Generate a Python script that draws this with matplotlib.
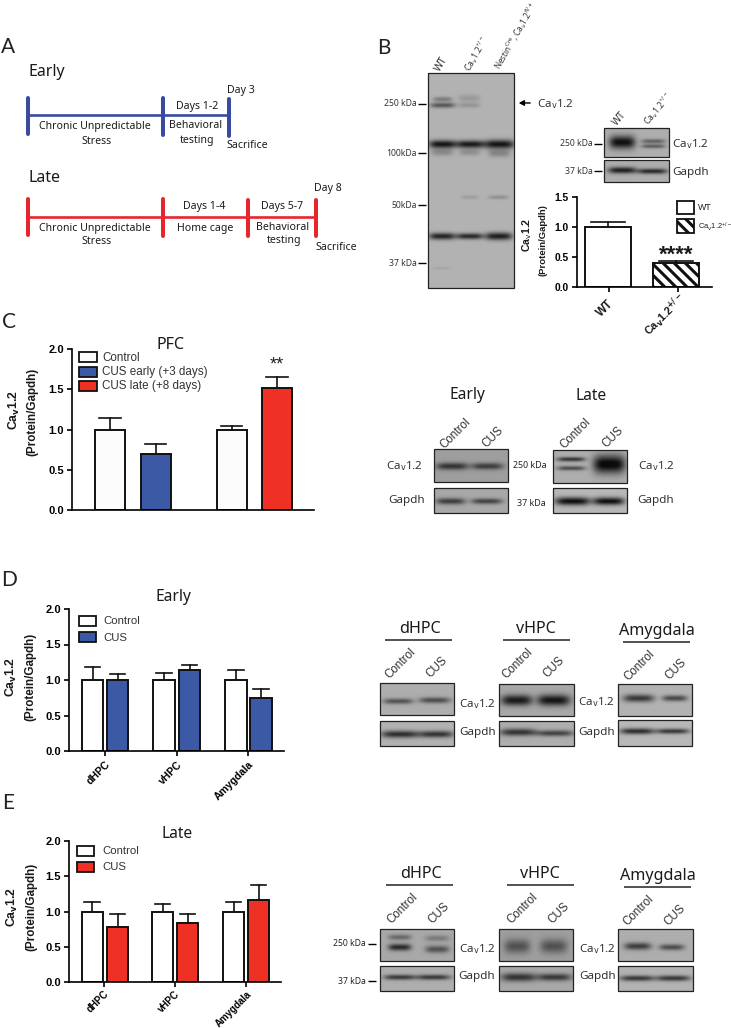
#!/usr/bin/env python3
# -*- coding:utf-8 -*-
"""
Cav1.2 stress figure: timelines, blots and bar panels
everything is placed in pixels of the 731x1028 page
"""

import matplotlib
matplotlib.use("Agg")
import matplotlib.pyplot as plt
from matplotlib.patches import Rectangle
import numpy as np

W, H = 731, 1028
WHITE = "#fdfcfc"
BLUE = "#3c59a6"
RED = "#ee3124"
TL_BLUE = "#3a4b9f"
TL_RED = "#e5262d"
LABEL = "Noto Sans"
BAR = "Liberation Sans"

CAV = "Ca$_{\\mathrm{v}}$1.2"
CAV_BOLD = "Ca$_{\\mathbf{v}}$1.2"
CAV_HET = "Ca$_{\\mathrm{v}}$1.2$^{+/-}$"
CAV_HET_BOLD = "Ca$_{\\mathbf{v}}$1.2$^{\\mathbf{+/-}}$"
NESTIN = "Nestin$^{\\mathrm{Cre}}$, Ca$_{\\mathrm{v}}$1.2$^{\\mathrm{fl/+}}$"

# bar values
b_means = [1.0, 0.40]
b_errs = [1.08, 0.44]
pfc_means = [1.0, 0.70, 1.0, 1.52]
pfc_errs = [1.14, 0.82, 1.04, 1.65]
regions = ["dHPC", "vHPC", "Amygdala"]
early_control = [1.0, 1.0, 1.0]
early_control_err = [1.18, 1.10, 1.14]
early_cus = [1.0, 1.14, 0.74]
early_cus_err = [1.08, 1.21, 0.88]
late_control = [1.0, 1.0, 1.0]
late_control_err = [1.13, 1.11, 1.14]
late_cus = [0.78, 0.83, 1.17]
late_cus_err = [0.97, 0.96, 1.37]

plt.rcParams["mathtext.default"] = "regular"
plt.rcParams["hatch.linewidth"] = 2.2
plt.rcParams["font.family"] = [LABEL, "DejaVu Sans"]

fig = plt.figure(figsize=(W / 100, H / 100), dpi=100)
page = fig.add_axes([0, 0, 1, 1])
page.set_xlim(0, W)
page.set_ylim(H, 0)
page.axis("off")


def label(x, y, s, size=7.6, ha="center", rot=0, color="#1a1a1a", family=LABEL, weight="normal"):
    page.text(x, y, s, fontsize=size, ha=ha, va="center", rotation=rot, color=color,
              family=family, weight=weight, rotation_mode="anchor")


def hline(x0, x1, y, color="black", lw=1.0):
    page.plot([x0, x1], [y, y], color=color, lw=lw, solid_capstyle="butt")


def blot(x0, x1, y0, y1, bands, bg=0.66):
    # bands are (left, right, y, half height, darkness)
    xs = np.arange(x0, x1, 0.5)
    ys = np.arange(y0, y1, 0.5)
    xx, yy = np.meshgrid(xs, ys)
    img = np.full(xx.shape, float(bg))
    for left, right, yc, hh, dark in bands:
        cx = (left + right) / 2
        wx = (right - left) / 2
        img -= dark * np.exp(-((xx - cx) / wx) ** 4 - ((yy - yc) / hh) ** 2)
    page.imshow(np.clip(img, 0.05, 1), extent=(x0, x1, y1, y0), cmap="gray", vmin=0, vmax=1,
                aspect="auto", interpolation="bilinear", zorder=2)
    page.add_patch(Rectangle((x0, y0), x1 - x0, y1 - y0, fill=False, ec="#222222", lw=0.9, zorder=3))


def bar_panel(left, right, top, bottom, ymax, ticks, xs, width, means, errs, colors, ticksize=8.0):
    ax = fig.add_axes([left / W, 1 - bottom / H, (right - left) / W, (bottom - top) / H])
    ax.set_xlim(left, right)
    ax.set_ylim(0, ymax)
    ax.patch.set_alpha(0)
    for x, m, e, c in zip(xs, means, errs, colors):
        ax.plot([x, x], [m, e], color="#111111", lw=1.2, zorder=1)
        ax.plot([x - width * 0.36, x + width * 0.36], [e, e], color="#111111", lw=1.2, zorder=1)
    bars = ax.bar(xs, means, width, color=colors, edgecolor="#111111", linewidth=1.4, zorder=2)
    for s in ["top", "right"]:
        ax.spines[s].set_visible(False)
    for s in ["left", "bottom"]:
        ax.spines[s].set_linewidth(1.2)
    ax.set_yticks(ticks)
    ax.set_yticklabels(["%.1f" % t for t in ticks], family=BAR, weight="bold", fontsize=ticksize)
    ax.tick_params(axis="y", length=3.8, width=1.2, pad=2)
    return ax, bars


def legend_box(x0, x1, y0, y1, color, hatch=None):
    page.add_patch(Rectangle((x0, y0), x1 - x0, y1 - y0, fc=color, ec="#111111", lw=1.3,
                             hatch=hatch, zorder=4))


def ylabels(x1, y1, x2, y2, size=8.4):
    label(x1, y1, CAV_BOLD, size=size + 0.4, rot=90, family=BAR, weight="bold")
    label(x2, y2, "(Protein/Gapdh)", size=size, rot=90, family=BAR, weight="bold")


def region_blots(tops, line_y, names, cav_y, gap_y):
    for (cx, x0, x1), y, s in zip(names, line_y, regions):
        label(cx, y - 11, s, size=11.6)
        hline(x0, x1, y, "#222222", 1.1)
    for x, y, s in tops:
        label(x, y, s, size=8.4, ha="left", rot=45, family=BAR, color="#333333")
    for x, y in cav_y:
        label(x, y, CAV, size=8.4, ha="left", color="#333333")
    for x, y in gap_y:
        label(x, y, "Gapdh", size=8.4, ha="left", color="#333333")


# panel letters
for s, x, y in [("A", 8, 47), ("B", 384, 48), ("C", 9, 322), ("D", 9, 580), ("E", 8, 803)]:
    label(x, y, s, size=15, color="#222222", family="Lato")

# A, timelines
label(29, 72, "Early", size=11.5, ha="left")
hline(28, 229, 115, TL_BLUE, 1.9)
for x, y0, y1 in [(28, 98, 134), (163, 98, 135), (229, 99, 136)]:
    page.plot([x, x], [y0, y1], color=TL_BLUE, lw=2.9, solid_capstyle="round")
label(241, 90, "Day 3")
label(197, 106, "Days 1-2")
label(95, 127, "Chronic Unpredictable")
label(97, 141, "Stress")
label(196, 126, "Behavioral")
label(197, 140, "testing")
label(247, 145, "Sacrifice")

label(29, 178, "Late", size=11.5, ha="left")
hline(28, 316, 217, TL_RED, 1.9)
for x, y0, y1 in [(28, 199, 235), (163, 199, 236), (248, 200, 236), (316, 200, 236)]:
    page.plot([x, x], [y0, y1], color=TL_RED, lw=2.9, solid_capstyle="round")
label(328, 188, "Day 8")
label(204, 206, "Days 1-4")
label(282, 207, "Days 5-7")
label(95, 228, "Chronic Unpredictable")
label(97, 242, "Stress")
label(205, 229, "Home cage")
label(283, 227, "Behavioral")
label(284, 241, "testing")
label(336, 248, "Sacrifice")

# B, full blot and the small one
blot(428, 514, 73, 288, [
    (430, 455, 105, 2.6, 0.36), (433, 452, 99, 2.4, 0.22),
    (458, 480, 105, 2.5, 0.12), (458, 480, 98, 3.5, 0.10),
    (429, 456, 144, 4.0, 0.62), (456, 484, 144, 3.8, 0.60), (484, 514, 144, 4.4, 0.62),
    (431, 453, 152, 3.6, 0.16), (459, 480, 152, 3.4, 0.14), (488, 510, 153, 3.8, 0.18),
    (461, 478, 197, 2.0, 0.08), (488, 508, 197, 2.0, 0.14),
    (429, 455, 236, 3.4, 0.56), (456, 483, 236, 3.0, 0.54), (485, 512, 236, 3.8, 0.58),
    (432, 450, 268, 1.6, 0.05),
], bg=0.70)
for s, y in [("250 kDa", 104), ("100kDa", 153), ("50kDa", 205), ("37 kDa", 263)]:
    label(416.5, y, s, size=6.2, ha="right", color="#333333")
    hline(418, 425.5, y, "black", 1.0)
label(438, 71, "WT", size=7.4, ha="left", rot=60, color="#333333")
label(467, 71, CAV_HET, size=6.2, ha="left", rot=60, color="#333333")
label(497, 69, NESTIN, size=5.8, ha="left", rot=60, color="#333333")
page.annotate("", xy=(516, 103), xytext=(533, 103),
              arrowprops=dict(arrowstyle="-|>,head_width=0.16,head_length=0.3", color="black", lw=1.0))
label(537, 104, CAV, size=8.4, ha="left", color="#333333")

blot(604, 669, 128, 157, [(609, 635, 142, 6.5, 0.62), (641, 665, 141, 2.2, 0.30), (641, 665, 146, 2.0, 0.32)], bg=0.68)
blot(604, 669, 160, 182, [(608, 636, 170, 3.2, 0.56), (637, 667, 171, 2.6, 0.52)], bg=0.68)
label(593, 144, "250 kDa", size=6.2, ha="right", color="#333333")
hline(594, 602, 144)
label(593, 171, "37 kDa", size=6.2, ha="right", color="#333333")
hline(594, 602, 171)
label(615, 124, "WT", size=7.2, ha="left", rot=50, color="#333333")
label(646, 124, CAV_HET, size=6.2, ha="left", rot=50, color="#333333")
label(672, 144, CAV, size=8.4, ha="left", color="#333333")
label(672, 172, "Gapdh", size=8.4, ha="left", color="#333333")

ax, bars = bar_panel(577, 712, 197, 287, 1.5, [0, 0.5, 1.0, 1.5], [608, 676], 46, b_means, b_errs,
                     ["white", "white"], ticksize=7.4)
bars[1].set_hatch("\\\\\\")
ax.set_xticks([609, 678])
ax.set_xticklabels([])
ax.tick_params(axis="x", length=3.8, width=1.2)
label(605, 308, "WT", size=8.4, rot=45, family=BAR, weight="bold")
label(665, 315, CAV_HET_BOLD, size=7.8, rot=45, family=BAR, weight="bold")
label(527, 235, CAV, size=7.6, rot=90, family=BAR, weight="bold")
label(543, 240, "(Protein/Gapdh)", size=6.8, rot=90, family=BAR, weight="bold")
legend_box(677, 694, 201, 214, "white")
legend_box(677, 694, 219, 233, "white", "\\\\\\")
label(698, 207, "WT", size=6.4, ha="left", family=BAR)
label(698, 227, CAV_HET, size=5.4, ha="left", family=BAR)
label(676, 255, "****", size=16, family=BAR, weight="bold")

# C
ax, _ = bar_panel(72, 314, 349, 510, 2.0, [0, 0.5, 1.0, 1.5, 2.0], [110, 155.5, 231.5, 277], 30,
                  pfc_means, pfc_errs, [WHITE, BLUE, WHITE, RED])
ax.set_xticks([])
label(171, 345, "PFC", size=11.6)
ylabels(14, 410, 32, 412)
for y0, y1, c, s, yt in [(352, 362, WHITE, "Control", 358), (367, 377, BLUE, "CUS early (+3 days)", 372),
                         (381, 391, RED, "CUS late (+8 days)", 386)]:
    legend_box(79, 97, y0, y1, c)
    label(102, yt, s, size=8.4, ha="left", family=BAR, color="#333333")
label(277, 365, "**", size=13, family=BAR, color="#222222")

label(467, 395, "Early", size=11.2)
label(591, 396, "Late", size=11.2)
for x, s, y in [(442, "Control", 447), (484, "CUS", 446), (562, "Control", 447), (604, "CUS", 446)]:
    label(x, y, s, size=8.4, ha="left", rot=45, family=BAR, color="#333333")
blot(434, 508, 449, 482, [(436, 468, 466, 3.6, 0.42), (471, 503, 466, 3.4, 0.38)], bg=0.62)
blot(434, 508, 488, 513, [(436, 465, 501, 3.2, 0.42), (471, 502, 501, 2.8, 0.40)], bg=0.66)
blot(553, 627, 450, 483, [(557, 585, 459, 2.2, 0.48), (557, 585, 468, 2.2, 0.38), (593, 625, 464, 9.0, 0.68)], bg=0.68)
blot(553, 627, 488, 513, [(555, 590, 501, 4.0, 0.66), (593, 624, 501, 3.8, 0.66)], bg=0.72)
label(386, 466, CAV, size=8.4, ha="left", color="#333333")
label(388, 501, "Gapdh", size=8.4, ha="left", color="#333333")
label(530, 466, "250 kDa", size=6.4, color="#222222")
label(531, 503, "37 kDa", size=6.4, color="#222222")
label(638, 466, CAV, size=8.4, ha="left", color="#333333")
label(637, 501, "Gapdh", size=8.4, ha="left", color="#333333")

# D
d_xs = [92.5, 117.5, 164, 189.5, 236, 261]
d_means = [v for pair in zip(early_control, early_cus) for v in pair]
d_errs = [v for pair in zip(early_control_err, early_cus_err) for v in pair]
ax, _ = bar_panel(69, 284, 609, 751, 2.0, [0, 0.5, 1.0, 1.5, 2.0], d_xs, 21.5, d_means, d_errs,
                  ["white", BLUE] * 3)
ax.set_xticks([105, 177, 248])
ax.set_xticklabels(regions, family=BAR, weight="bold", fontsize=7.6, rotation=45, ha="right",
                   rotation_mode="anchor")
ax.tick_params(axis="x", length=3.5, width=1.2, pad=2.5)
label(173, 597, "Early", size=11.2)
ylabels(11, 677, 30, 677)
legend_box(79, 96, 616, 626, "white")
legend_box(79, 96, 632, 642, BLUE)
label(103, 621, "Control", size=8.2, ha="left", family=BAR, color="#333333")
label(103, 638, "CUS", size=8.2, ha="left", family=BAR, color="#333333")

region_blots([(387, 677, "Control"), (428, 676, "CUS"), (504, 677, "Control"), (545, 676, "CUS"),
              (626, 679, "Control"), (667, 678, "CUS")],
             [640, 640, 642], [(420, 385, 452), (536, 503, 570), (657, 623, 690)],
             [(459, 704), (578, 702)], [(459, 733), (578, 733)])
blot(380, 454, 683, 715, [(383, 413, 701, 2.8, 0.36), (419, 450, 700, 3.0, 0.38)], bg=0.68)
blot(380, 454, 721, 746, [(381, 419, 734, 3.6, 0.52), (419, 453, 734, 3.4, 0.50)], bg=0.70)
blot(499, 574, 684, 716, [(501, 532, 700, 5.4, 0.56), (537, 570, 700, 5.6, 0.58)], bg=0.66)
blot(499, 574, 721, 746, [(500, 536, 732, 3.6, 0.48), (536, 573, 733, 3.0, 0.42)], bg=0.68)
blot(618, 692, 684, 716, [(623, 654, 698, 3.8, 0.48), (662, 687, 698, 3.0, 0.42)], bg=0.70)
blot(618, 692, 720, 746, [(620, 654, 731, 3.0, 0.54), (656, 689, 731, 2.6, 0.50)], bg=0.72)

# E
e_xs = [92, 117.5, 162.5, 187.5, 233.5, 258.5]
e_means = [v for pair in zip(late_control, late_cus) for v in pair]
e_errs = [v for pair in zip(late_control_err, late_cus_err) for v in pair]
ax, _ = bar_panel(69, 281, 841, 982, 2.0, [0, 0.5, 1.0, 1.5, 2.0], e_xs, 21, e_means, e_errs,
                  ["white", RED] * 3)
ax.set_xticks([104, 175, 246])
ax.set_xticklabels(regions, family=BAR, weight="bold", fontsize=7.0, rotation=45, ha="right",
                   rotation_mode="anchor")
ax.tick_params(axis="x", length=3.5, width=1.2, pad=1.5)
label(177, 834, "Late", size=11.2)
ylabels(12, 907, 31, 907)
legend_box(77, 94, 846, 856, "white")
legend_box(77, 94, 862, 872, RED)
label(102, 851, "Control", size=8.2, ha="left", family=BAR, color="#333333")
label(102, 867, "CUS", size=8.2, ha="left", family=BAR, color="#333333")

region_blots([(389, 922, "Control"), (430, 922, "CUS"), (509, 922, "Control"), (550, 922, "CUS"),
              (625, 924, "Control"), (666, 924, "CUS")],
             [885, 885, 887], [(421, 386, 453), (540, 507, 574), (658, 624, 691)],
             [(459, 949), (579, 949)], [(458, 977), (579, 977)])
blot(380, 454, 929, 961, [(388, 411, 947, 3.4, 0.50), (388, 411, 937, 2.8, 0.25),
                          (425, 449, 949, 3.6, 0.34), (425, 449, 938, 3.0, 0.18)], bg=0.66)
blot(380, 454, 966, 991, [(384, 415, 977, 2.6, 0.46), (416, 450, 977, 2.6, 0.46)], bg=0.68)
blot(499, 573, 929, 961, [(504, 530, 946, 7.0, 0.30), (540, 567, 946, 7.0, 0.30)], bg=0.62)
blot(499, 573, 966, 991, [(501, 536, 977, 4.2, 0.46), (537, 571, 977, 3.6, 0.44)], bg=0.66)
blot(618, 693, 929, 961, [(624, 651, 946, 3.6, 0.44), (659, 684, 947, 3.0, 0.38)], bg=0.68)
blot(618, 693, 966, 991, [(620, 654, 978, 2.8, 0.48), (656, 690, 978, 2.8, 0.48)], bg=0.70)
label(366, 944, "250 kDa", size=6.2, ha="right", color="#222222")
hline(368, 376, 944)
label(366, 981, "37 kDa", size=6.2, ha="right", color="#222222")
hline(368, 376, 981)

page.set_xlim(0, W)
page.set_ylim(H, 0)
fig.savefig("out.png", dpi=100)
